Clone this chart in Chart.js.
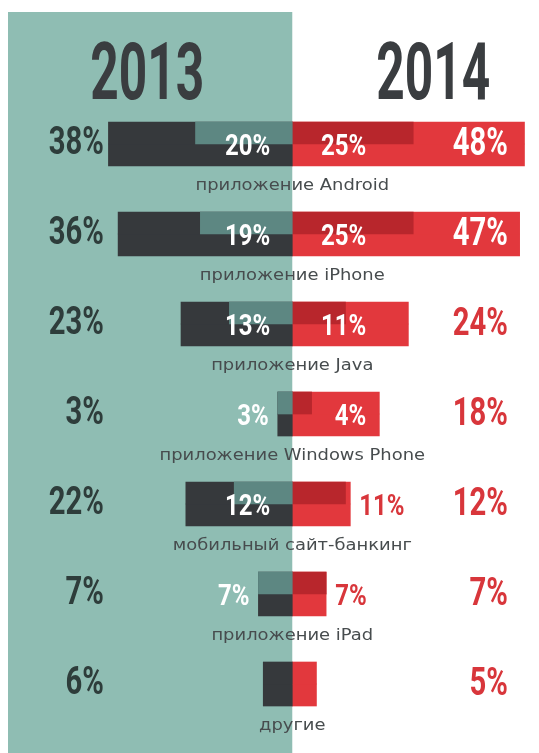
<!DOCTYPE html>
<html>
<head>
<meta charset="utf-8">
<script src="https://cdn.jsdelivr.net/npm/chart.js@4"></script>
<style>
  html, body { margin: 0; padding: 0; background: #fff; }
  canvas { display: block; }
</style>
</head>
<body>
<canvas id="bankChart" width="539" height="753"></canvas>
<script>
const categories = ['приложение Android', 'приложение iPhone', 'приложение Java', 'приложение Windows Phone', 'мобильный сайт-банкинг', 'приложение iPad', 'другие']
const years = ['2013', '2014']
const total2013 = [38, 36, 23, 3, 22, 7, 6]
const inner2013 = [20, 19, 13, 3, 12, 7, null]
const total2014 = [48, 47, 24, 18, 12, 7, 5]
const inner2014 = [25, 25, 11, 4, 11, 7, null]

const TEAL_BG = '#8fbdb3'
const DARK = '#36393c'
const DARK_TEAL = '#5d8782'
const RED = '#e2383d'
const DARK_RED = '#b8262c'
const LEFT_TEXT = '#2e3d3b'
const RIGHT_TEXT = '#d8363b'
const LABEL_TEXT = '#474c4e'
const YEAR_TEXT = '#3a3d40'

// 2013 goes to the left of zero
const toLeft = arr => arr.map(v => v === null ? null : -v)
const pct = v => v + '%'

// bold condensed-looking digits: squeeze a normal bold face horizontally
function condensed(ctx, text, x, yMid, size, squeeze, align, color) {
  ctx.save()
  ctx.font = `bold ${size}px Roboto, "Liberation Sans", sans-serif`
  ctx.fillStyle = color
  ctx.textBaseline = 'alphabetic'
  ctx.textAlign = 'left'
  const w = ctx.measureText(text).width * squeeze
  const left = align === 'right' ? x - w : align === 'center' ? x - w / 2 : x
  ctx.translate(left, yMid + size * 0.355)
  ctx.scale(squeeze, 1)
  ctx.fillText(text, 0, 0)
  ctx.restore()
  return w
}

function textWidth(ctx, text, size, squeeze) {
  ctx.save()
  ctx.font = `bold ${size}px Roboto, "Liberation Sans", sans-serif`
  const w = ctx.measureText(text).width * squeeze
  ctx.restore()
  return w
}

const panelPlugin = {
  id: 'panel',
  beforeDraw(chart) {
    const ctx = chart.ctx
    const zero = chart.scales.x.getPixelForValue(0)
    ctx.save()
    ctx.fillStyle = '#ffffff'
    ctx.fillRect(0, 0, chart.width, chart.height)
    ctx.fillStyle = TEAL_BG
    ctx.fillRect(8, 12, zero - 8, chart.height - 12)
    ctx.restore()
  }
}

const textPlugin = {
  id: 'texts',
  afterDatasetsDraw(chart) {
    const ctx = chart.ctx
    const x = chart.scales.x
    const y = chart.scales.y
    const zero = x.getPixelForValue(0)

    condensed(ctx, years[0], zero - 145, 71, 80, 0.62, 'center', YEAR_TEXT)
    condensed(ctx, years[1], zero + 141, 71, 80, 0.62, 'center', YEAR_TEXT)

    categories.forEach((cat, i) => {
      const cy = y.getPixelForValue(i)

      // totals at the edges, white when the red bar runs under them
      condensed(ctx, pct(total2013[i]), 104, cy - 3, 38, 0.77, 'right', LEFT_TEXT)
      const end2014 = x.getPixelForValue(total2014[i])
      condensed(ctx, pct(total2014[i]), 508, cy - 2, 38, 0.77, 'right', end2014 > 508 ? '#ffffff' : RIGHT_TEXT)

      // inner values next to the axis
      if (inner2013[i] !== null) {
        const t = pct(inner2013[i])
        const w = textWidth(ctx, t, 30, 0.8)
        const barStart = x.getPixelForValue(-total2013[i])
        let right = zero - 22
        if (right - w < barStart + 4) right = barStart - 9
        condensed(ctx, t, right, cy, 30, 0.8, 'right', '#ffffff')
      }
      if (inner2014[i] !== null) {
        const t = pct(inner2014[i])
        const right = zero + 74
        if (right <= end2014 - 4) {
          condensed(ctx, t, right, cy, 30, 0.8, 'right', '#ffffff')
        } else {
          condensed(ctx, t, end2014 + 9, cy, 30, 0.8, 'left', RIGHT_TEXT)
        }
      }

      // category caption under the bar
      ctx.save()
      ctx.font = '16px "DejaVu Sans", sans-serif'
      ctx.fillStyle = LABEL_TEXT
      ctx.textBaseline = 'middle'
      ctx.textAlign = 'left'
      const stretch = 1.12
      const cw = ctx.measureText(cat).width * stretch
      ctx.translate(zero - cw / 2, cy + 42)
      ctx.scale(stretch, 1)
      ctx.fillText(cat, 0, 0)
      ctx.restore()
    })
  }
}

const halfBar = (data, color, stack) => ({
  data: data,
  backgroundColor: color,
  stack: stack,
  barThickness: 22,
  borderWidth: 0,
  borderSkipped: false
})

const ctx = document.getElementById('bankChart')
new Chart(ctx, {
  type: 'bar',
  data: {
    labels: categories,
    datasets: [
      halfBar(toLeft(inner2013), DARK_TEAL, 'top'),
      halfBar(inner2014, DARK_RED, 'top'),
      halfBar(toLeft(total2013), DARK, 'top'),
      halfBar(total2014, RED, 'top'),
      halfBar(toLeft(total2013), DARK, 'bottom'),
      halfBar(total2014, RED, 'bottom')
    ]
  },
  options: {
    indexAxis: 'y',
    responsive: false,
    animation: false,
    layout: {
      padding: { left: 2, right: 0, top: 99, bottom: 24 }
    },
    plugins: {
      legend: { display: false },
      tooltip: { enabled: false }
    },
    scales: {
      x: {
        type: 'linear',
        min: -60,
        max: 51,
        stacked: false,
        display: false
      },
      y: {
        type: 'category',
        display: false
      }
    }
  },
  plugins: [panelPlugin, textPlugin]
})
</script>
</body>
</html>
